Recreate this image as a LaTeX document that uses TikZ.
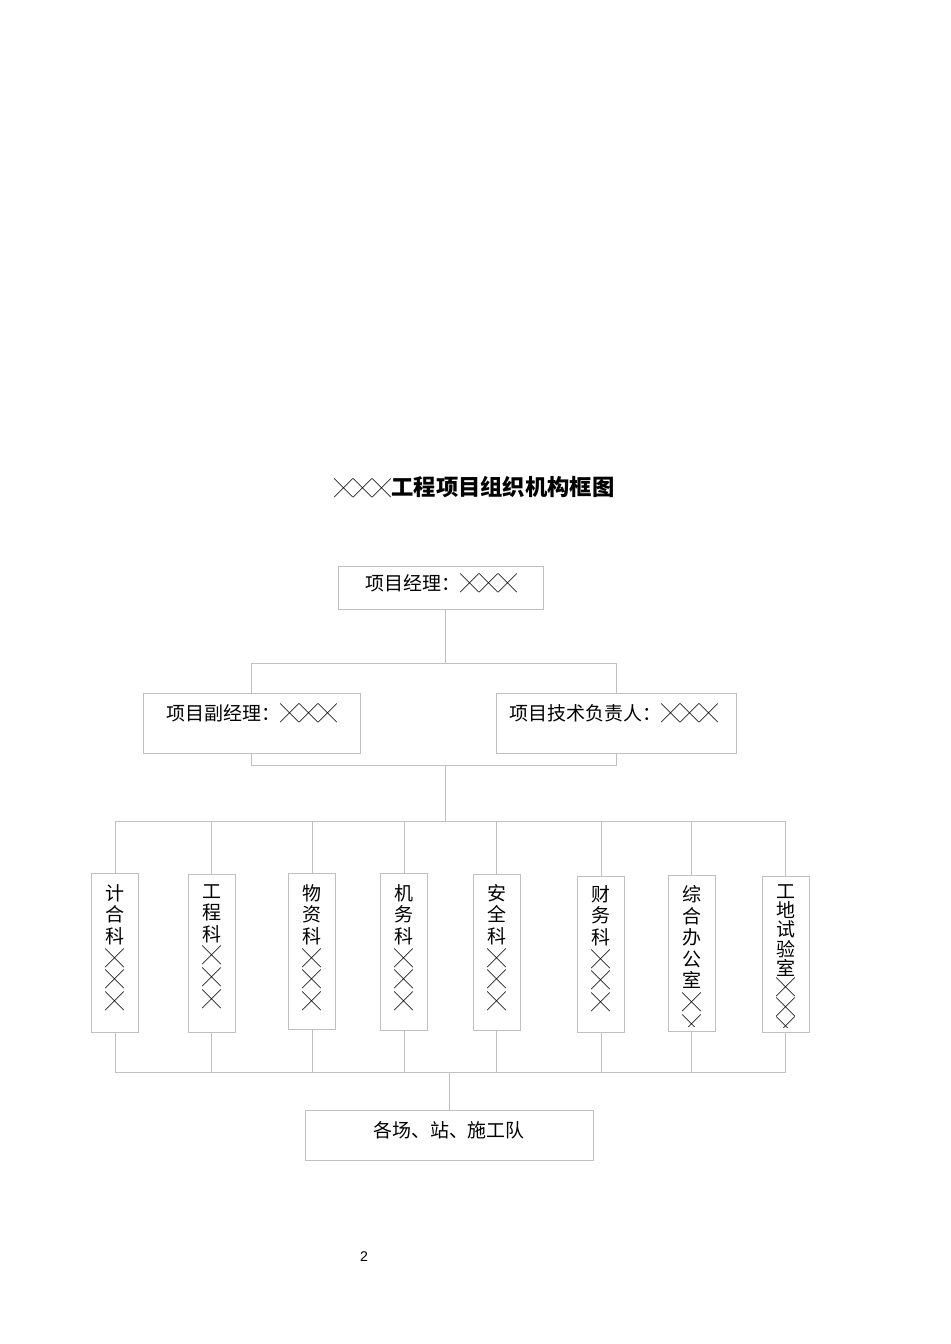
\documentclass[tikz,border=0pt]{standalone}
\usepackage{fontspec}
\setmainfont{Noto Sans CJK SC}
\newfontfamily\pagefont{Liberation Sans}
\usepackage{tikz}
\usetikzlibrary{calc}
\definecolor{linegray}{RGB}{192,192,192}

\begin{document}
\begin{tikzpicture}[x=0.02cm,y=-0.02cm,
    box/.style={draw=linegray,line width=0.45pt,inner sep=0pt},
    kbox/.style={box,minimum width=0.94cm},
    link/.style={draw=linegray,line width=0.45pt},
    txt/.style={inner sep=0pt,font=\fontsize{10.8}{12.3}\selectfont},
    coltxt/.style={txt,align=center,anchor=north}]
    \useasboundingbox (0,0) rectangle (950,1344);
    % title
    \node[font=\fontsize{12.7}{16}\selectfont\bfseries] (title) at (474.5,487) {{\mdseries\fontsize{10.8}{16}\selectfont ╳╳╳}工程项目组织机构框图};

    % manager level
    \node[box,minimum width=4.1cm,minimum height=0.86cm] (pm) at (440.5,587.5) {};
    \node[txt] (pmtxt) at (441.5,583) {项目经理：╳╳╳};
    \node[box,minimum width=4.34cm,minimum height=1.2cm] (vpm) at (251.5,723) {};
    \node[txt,anchor=west] (vpmtxt) at (166,713) {项目副经理：╳╳╳};
    \node[box,minimum width=4.8cm,minimum height=1.2cm] (tech) at (616,723) {};
    \node[txt,anchor=west] (techtxt) at (509,713) {项目技术负责人：╳╳╳};

    % departments
    \node[kbox,minimum height=3.18cm] (k1) at (115,952.5) {};
    \node[kbox,minimum height=3.16cm] (k2) at (211.5,953) {};
    \node[kbox,minimum height=3.12cm] (k3) at (312,951) {};
    \node[kbox,minimum height=3.14cm] (k4) at (404,951.5) {};
    \node[kbox,minimum height=3.12cm] (k5) at (496.5,952) {};
    \node[kbox,minimum height=3.12cm] (k6) at (601,954) {};
    \node[kbox,minimum height=3.12cm] (k7) at (691.5,953) {};
    \node[kbox,minimum height=3.12cm] (k8) at (785.5,954) {};
    \node[coltxt] (k1txt) at (115,884) {计\\合\\科\\╳\\╳\\╳};
    \node[coltxt] (k2txt) at (211.5,884) {工\\程\\科\\╳\\╳\\╳};
    \node[coltxt] (k3txt) at (312,884) {物\\资\\科\\╳\\╳\\╳};
    \node[coltxt] (k4txt) at (404,884) {机\\务\\科\\╳\\╳\\╳};
    \node[coltxt] (k5txt) at (496.5,884) {安\\全\\科\\╳\\╳\\╳};
    \node[coltxt] (k6txt) at (601,885) {财\\务\\科\\╳\\╳\\╳};
    \begin{scope}
        \clip (668,876) rectangle (715,1026);
        \node[coltxt] (k7txt) at (691.5,885) {综\\合\\办\\公\\室\\╳\\╳};
    \end{scope}
    \begin{scope}
        \clip (762,877) rectangle (809,1027);
        \node[coltxt,font=\fontsize{10.8}{11}\selectfont] (k8txt) at (785.5,884) {工\\地\\试\\验\\室\\╳\\╳\\╳};
    \end{scope}

    % field teams
    \node[box,minimum width=5.76cm,minimum height=1cm] (team) at (449,1135) {};
    \node[txt] (teamtxt) at (449,1130) {各场、站、施工队};

    % connectors
    \coordinate (j1) at (445,663);
    \coordinate (j2) at (445,765);
    \coordinate (j3) at (445,821);
    \coordinate (j4) at (449,1072);
    \draw[link] (pm.south -| j1) -- (j1);
    \draw[link] (vpm.north) -- (vpm.north |- j1) -- (tech.north |- j1) -- (tech.north);
    \draw[link] (vpm.south) -- (vpm.south |- j2) -- (tech.south |- j2) -- (tech.south);
    \draw[link] (j2) -- (j3);
    \draw[link] (k1.north |- j3) -- (k8.north |- j3);
    \draw[link] (k1.south |- j4) -- (k8.south |- j4);
    \foreach \k in {k1,k2,k3,k4,k5,k6,k7,k8} {
        \draw[link] (\k.north) -- (\k.north |- j3);
        \draw[link] (\k.south) -- (\k.south |- j4);
    }
    \draw[link] (j4) -- (team.north);

    \node[font=\pagefont\fontsize{8}{9}\selectfont] (pageno) at (364,1257) {2};
\end{tikzpicture}
\end{document}
